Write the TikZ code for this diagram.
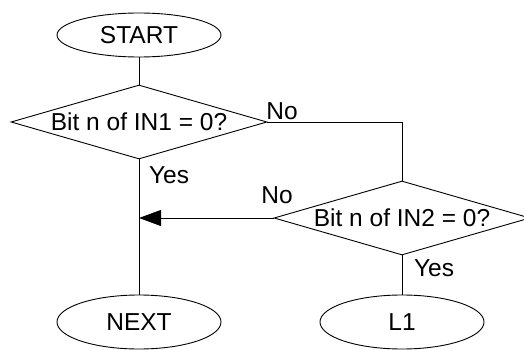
\documentclass[tikz,border=0pt]{standalone}
\usepackage{fontspec}
\setmainfont{Liberation Sans}
\usetikzlibrary{shapes.geometric,arrows.meta}
\newcommand{\zwtext}[1]{\makebox[0pt]{#1}}
\tikzset{
  base/.style={draw=black, line width=0.9pt, inner sep=0pt, font=\fontsize{24.5}{29}\selectfont},
  term/.style={base, ellipse, minimum width=164pt},
  decision/.style={base, diamond, aspect=3.46, minimum width=256pt, minimum height=74pt},
  lbl/.style={inner sep=0pt, font=\fontsize{24.5}{29}\selectfont},
  conn/.style={line width=0.9pt},
  arr/.style={conn, -{Triangle[length=22pt,width=16pt]}}
}
\begin{document}
\begin{tikzpicture}[x=1pt,y=-1pt]
\useasboundingbox (0,0) rectangle (524,350);
\node[term, minimum height=44pt] (start) at (139,35) {START};
\node[decision] (d1) at (139,122) {\zwtext{Bit n of IN1 = 0?}};
\node[decision] (d2) at (402,218) {\zwtext{Bit n of IN2 = 0?}};
\node[term, minimum height=54pt] (next) at (139,322) {NEXT};
\node[term, minimum height=54pt] (l1) at (402,322) {L1};
\coordinate (join) at (d1.south |- d2.west);
\draw[conn] (start.south) -- (d1.north);
\draw[conn] (d1.south) -- (next.north);
\draw[conn] (d1.east) -| (d2.north);
\draw[arr] (d2.west) -- (join);
\draw[conn] (d2.south) -- (l1.north);
\node[lbl] (no1) at (282,111) {No};
\node[lbl] (yes1) at (169,175) {Yes};
\node[lbl] (no2) at (277,195) {No};
\node[lbl] (yes2) at (434,268) {Yes};
\end{tikzpicture}
\end{document}
